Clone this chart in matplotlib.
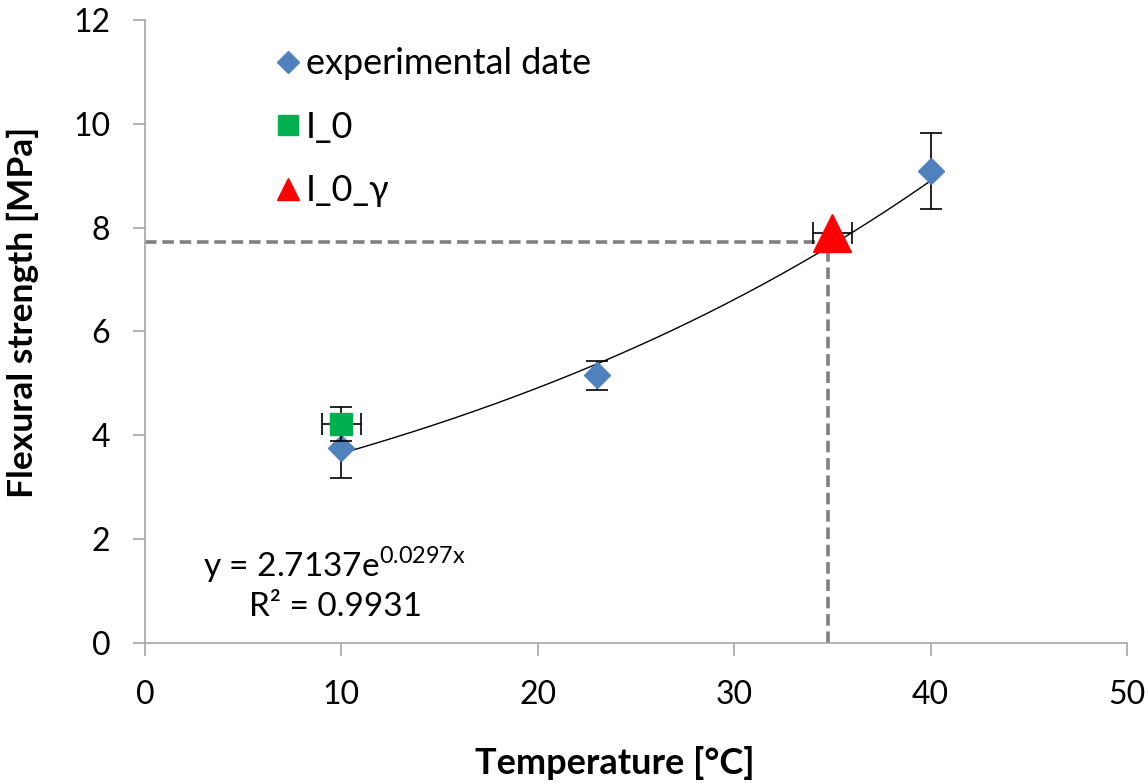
import numpy as np
import matplotlib
matplotlib.use("Agg")
import matplotlib.pyplot as plt

plt.rcParams['font.family'] = ['Lato', 'DejaVu Sans']

# experimental data
temp_exp = [10, 23, 40]
stren_exp = [3.75, 5.16, 9.09]
err_exp = [0.58, 0.28, 0.73]

# I_0
temp_i0 = [10]
stren_i0 = [4.22]
xerr_i0 = [1.0]
yerr_i0 = [0.33]

# I_0_gamma
temp_g = [35]
stren_g = [7.9]
xerr_g = [1.0]

# fit y = a*exp(b*x)
fit_a = 2.7137
fit_b = 0.0297
fit_range = [10, 40]
ref_x = 34.8
ref_y = 7.72

fig = plt.figure(figsize=(11.48, 7.83), dpi=100)
ax = fig.add_axes([0.1263, 0.1788, 0.8554, 0.7957])

grey = "#808080"
axgrey = "#A6A6A6"
ax.plot([0, ref_x], [ref_y, ref_y], color=grey, linestyle=(0, (3.2, 1.6)), linewidth=2.6, zorder=1)
ax.plot([ref_x, ref_x], [0, ref_y], color=grey, linestyle=(0, (3.2, 1.6)), linewidth=2.6, zorder=1)

xf = np.linspace(fit_range[0], fit_range[1], 200)
ax.plot(xf, fit_a * np.exp(fit_b * xf), color="black", linewidth=1.0, zorder=3)

ax.errorbar(temp_exp, stren_exp, yerr=err_exp, fmt='D', color="#4F81BD", markersize=13,
            ecolor="black", elinewidth=1.2, capsize=8, capthick=1.2, zorder=4,
            label="experimental date")
ax.errorbar(temp_i0, stren_i0, xerr=xerr_i0, yerr=yerr_i0, fmt='s', color="#00B050", markersize=15.5,
            ecolor="black", elinewidth=1.2, capsize=8, capthick=1.2, zorder=5, label="I_0")
ax.errorbar(temp_g, stren_g, xerr=xerr_g, fmt='^', color="#FF0000", markersize=27,
            ecolor="black", elinewidth=1.2, capsize=8, capthick=1.2, zorder=5, label="I_0_\u03b3")

ax.set_xlim(0, 50)
ax.set_ylim(0, 12)
ax.set_xticks([0, 10, 20, 30, 40, 50])
ax.set_yticks([0, 2, 4, 6, 8, 10, 12])
ax.tick_params(labelsize=23, color=axgrey, length=9, width=1.2)
ax.tick_params(axis='y', pad=16)
ax.tick_params(axis='x', pad=18)
for s in ['top', 'right']:
    ax.spines[s].set_visible(False)
for s in ['left', 'bottom']:
    ax.spines[s].set_color(axgrey)
    ax.spines[s].set_linewidth(1.2)

ax.set_xlabel("Temperature [\u00b0C]", fontsize=26, fontweight='bold')
ax.set_ylabel("Flexural strength [MPa]", fontsize=25.5, fontweight='bold')
ax.xaxis.set_label_coords(0.478, -0.165)
ax.yaxis.set_label_coords(-0.108, 0.531)

ax.text(9.63, 1.5, r"y = 2.7137e$^{\mathregular{0.0297x}}$", fontsize=24, ha='center', va='center')
ax.text(9.7, 0.69, "R\u00b2 = 0.9931", fontsize=24, ha='center', va='center')

handles, labels = ax.get_legend_handles_labels()
hs = [h[0] for h in handles]
leg = ax.legend(hs, labels, loc='upper left', bbox_to_anchor=(0.098, 1.008), frameon=False,
                fontsize=26, handletextpad=0.1, labelspacing=0.84, handlelength=0.8)
for h, ms in zip(leg.legend_handles, [11.2, 13.7, 16.5]):
    h.set_markersize(ms)

fig.savefig("out.png", dpi=100)
